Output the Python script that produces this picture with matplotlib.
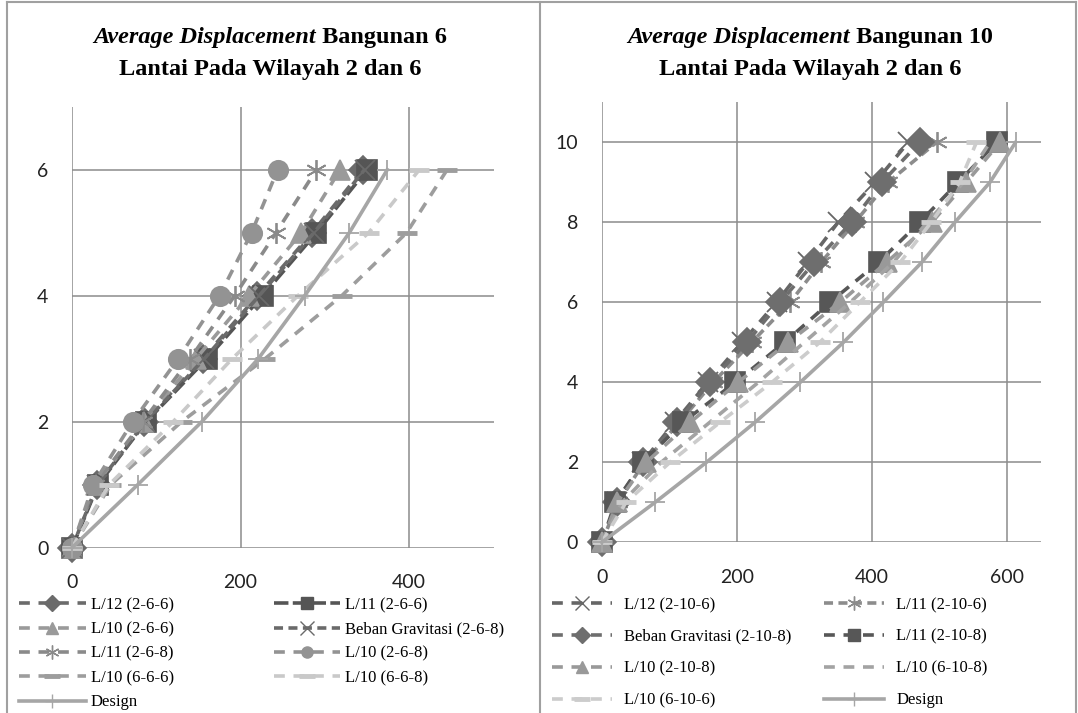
import matplotlib
matplotlib.use('Agg')
import matplotlib.pyplot as plt
from matplotlib.lines import Line2D

# ---- data: lateral displacement (mm) per floor ----
floors_6 = [0, 1, 2, 3, 4, 5, 6]
l12_2_6_6 = [0, 30, 86, 155, 220, 285, 345]
l11_2_6_6 = [0, 31, 88, 160, 226, 290, 350]
l10_2_6_6 = [0, 28, 86, 147, 210, 272, 318]
gravitasi_2_6_8 = [0, 30, 87, 157, 222, 287, 347]
l11_2_6_8 = [0, 27, 84, 140, 193, 242, 290]
l10_2_6_8 = [0, 25, 72, 126, 175, 213, 244]
l10_6_6_6 = [0, 46, 130, 229, 320, 397, 445]
l10_6_6_8 = [0, 44, 120, 190, 268, 352, 412]
design_6 = [0, 78, 154, 221, 276, 329, 374]

floors_10 = [0, 1, 2, 3, 4, 5, 6, 7, 8, 9, 10]
l12_2_10_6 = [0, 22, 60, 108, 157, 208, 259, 305, 350, 405, 454]
l11_2_10_6 = [0, 24, 63, 115, 165, 222, 279, 325, 375, 424, 496]
gravitasi_2_10_8 = [0, 23, 61, 112, 160, 215, 264, 315, 370, 415, 471]
l11_2_10_8 = [0, 20, 61, 120, 198, 271, 338, 410, 471, 528, 585]
l10_2_10_8 = [0, 23, 66, 131, 202, 276, 353, 422, 489, 540, 590]
l10_6_10_8 = [0, 30, 88, 160, 232, 300, 368, 432, 482, 536, 575]
l10_6_10_6 = [0, 36, 101, 175, 252, 323, 382, 442, 488, 530, 555]
design_10 = [0, 79, 155, 227, 294, 358, 417, 474, 523, 575, 613]

DASH = (0, (3, 2.4))
ASTER = (6, 2, 0)

SERIES_6 = [
    ('L/12 (2-6-6)', l12_2_6_6, '#6b6b6b', 'D', DASH),
    ('L/11 (2-6-6)', l11_2_6_6, '#555555', 's', (0, (4, 1.2))),
    ('L/10 (2-6-6)', l10_2_6_6, '#9a9a9a', '^', DASH),
    ('Beban Gravitasi (2-6-8)', gravitasi_2_6_8, '#6a6a6a', 'x', (0, (2.5, 1.5))),
    ('L/11 (2-6-8)', l11_2_6_8, '#8a8a8a', ASTER, DASH),
    ('L/10 (2-6-8)', l10_2_6_8, '#939393', 'o', DASH),
    ('L/10 (6-6-6)', l10_6_6_6, '#9d9d9d', '_', DASH),
    ('L/10 (6-6-8)', l10_6_6_8, '#c9c9c9', '_', DASH),
    ('Design', design_6, '#a6a6a6', '+', '-'),
]

SERIES_10 = [
    ('L/12 (2-10-6)', l12_2_10_6, '#666666', 'x', DASH),
    ('L/11 (2-10-6)', l11_2_10_6, '#8c8c8c', ASTER, (0, (2.5, 1.5))),
    ('Beban Gravitasi (2-10-8)', gravitasi_2_10_8, '#6e6e6e', 'D', DASH),
    ('L/11 (2-10-8)', l11_2_10_8, '#575757', 's', DASH),
    ('L/10 (2-10-8)', l10_2_10_8, '#999999', '^', DASH),
    ('L/10 (6-10-8)', l10_6_10_8, '#a3a3a3', None, DASH),
    ('L/10 (6-10-6)', l10_6_10_6, '#cccccc', '_', DASH),
    ('Design', design_10, '#a6a6a6', '+', '-'),
]

W, H = 1078, 713
fig = plt.figure(figsize=(W / 100, H / 100), dpi=100)
fig.patch.set_facecolor('white')

GRID = '#8c8c8c'
TICK_FONT = 'Lato'
SERIF = 'Liberation Serif'
TITLE_SIZE = 17.5


def px_axes(x0, y0, x1, y1):
    return fig.add_axes([x0 / W, 1 - y1 / H, (x1 - x0) / W, (y1 - y0) / H])


def draw_panel(ax, floors, series, xlim, ylim, xticks, yticks):
    for label, vals, color, marker, ls in series:
        ms = 14
        mew = 1.2
        if marker == '_':
            ms, mew = 15, 3.5
        elif marker in ('x', '+') or marker == ASTER:
            ms, mew = 15, 1.3
        ax.plot(vals, floors, color=color, lw=2.6, linestyle=ls, marker=marker,
                markersize=ms, markeredgewidth=mew, markerfacecolor=color,
                markeredgecolor=color, label=label, clip_on=False)
    ax.set_xlim(*xlim)
    ax.set_ylim(*ylim)
    ax.set_xticks(xticks)
    ax.set_yticks(yticks)
    ax.grid(True, color=GRID, lw=1.1)
    ax.set_axisbelow(True)
    for s in ax.spines.values():
        s.set_visible(False)
    ax.tick_params(length=0, labelsize=14, labelcolor='#222222')
    ax.tick_params(axis='x', pad=19)
    ax.tick_params(axis='y', pad=17)
    for t in ax.get_xticklabels() + ax.get_yticklabels():
        t.set_fontfamily(TICK_FONT)


def mixed_title(xc, yc, italic_part, rest):
    r = fig.canvas.get_renderer()
    kw = dict(fontsize=TITLE_SIZE, fontweight='bold', family=SERIF, va='center')
    t1 = fig.text(0, 1 - yc / H, italic_part, style='italic', ha='left', **kw)
    t2 = fig.text(0, 1 - yc / H, ' ' + rest, ha='left', **kw)
    w1 = t1.get_window_extent(r).width
    w2 = t2.get_window_extent(r).width
    x0 = xc - (w1 + w2) / 2
    t1.set_x(x0 / W)
    t2.set_x((x0 + w1) / W)


def legend(series, order, anchor, spacing, hlen, tpad, cspace):
    handles = []
    for i in order:
        label, vals, color, marker, ls = series[i]
        ms = 8
        mew = 1
        if marker == '_':
            ms, mew = 12, 3.5
        elif marker in ('x', '+') or marker == ASTER:
            ms, mew = 10, 1
        handles.append(Line2D([], [], color=color, lw=2.6, linestyle=ls,
                              marker=marker, markersize=ms, markeredgewidth=mew,
                              markerfacecolor=color, markeredgecolor=color,
                              label=label))
    fig.legend(handles=handles, loc='upper left',
               bbox_to_anchor=(anchor[0] / W, 1 - anchor[1] / H),
               ncol=2, frameon=False, borderpad=0, borderaxespad=0,
               prop={'family': SERIF, 'size': 12}, numpoints=1,
               labelspacing=spacing, handlelength=hlen, handletextpad=tpad,
               columnspacing=cspace)


ax1 = px_axes(72, 106.7, 493.5, 547.7)
draw_panel(ax1, floors_6, SERIES_6, (0, 500), (0, 7), [0, 200, 400], [0, 2, 4, 6])

ax2 = px_axes(601.8, 102.3, 1040.6, 542.3)
draw_panel(ax2, floors_10, SERIES_10, (0, 650), (0, 11), [0, 200, 400, 600],
           [0, 2, 4, 6, 8, 10])

mixed_title(270, 38, 'Average Displacement', 'Bangunan 6')
fig.text(270 / W, 1 - 69 / H, 'Lantai Pada Wilayah 2 dan 6', ha='center', va='center',
         fontsize=TITLE_SIZE, fontweight='bold', family=SERIF)
mixed_title(810, 38, 'Average Displacement', 'Bangunan 10')
fig.text(810 / W, 1 - 69 / H, 'Lantai Pada Wilayah 2 dan 6', ha='center', va='center',
         fontsize=TITLE_SIZE, fontweight='bold', family=SERIF)

legend(SERIES_6, [0, 2, 4, 6, 8, 1, 3, 5, 7], (19, 597), 0.5, 4.0, 0.3, 6.0)
legend(SERIES_10, [0, 2, 4, 6, 1, 3, 5, 7], (552, 597), 0.95, 3.6, 0.7, 2.0)

# panel frames
BORDER = '#a0a0a0'
for xs, ys in [([7, 7], [2, 713]), ([540, 540], [2, 713]), ([1076, 1076], [2, 713]),
               ([7, 1076], [2, 2])]:
    fig.add_artist(Line2D([x / W for x in xs], [1 - y / H for y in ys],
                          color=BORDER, lw=1.5))

fig.savefig('out.png', dpi=100)
